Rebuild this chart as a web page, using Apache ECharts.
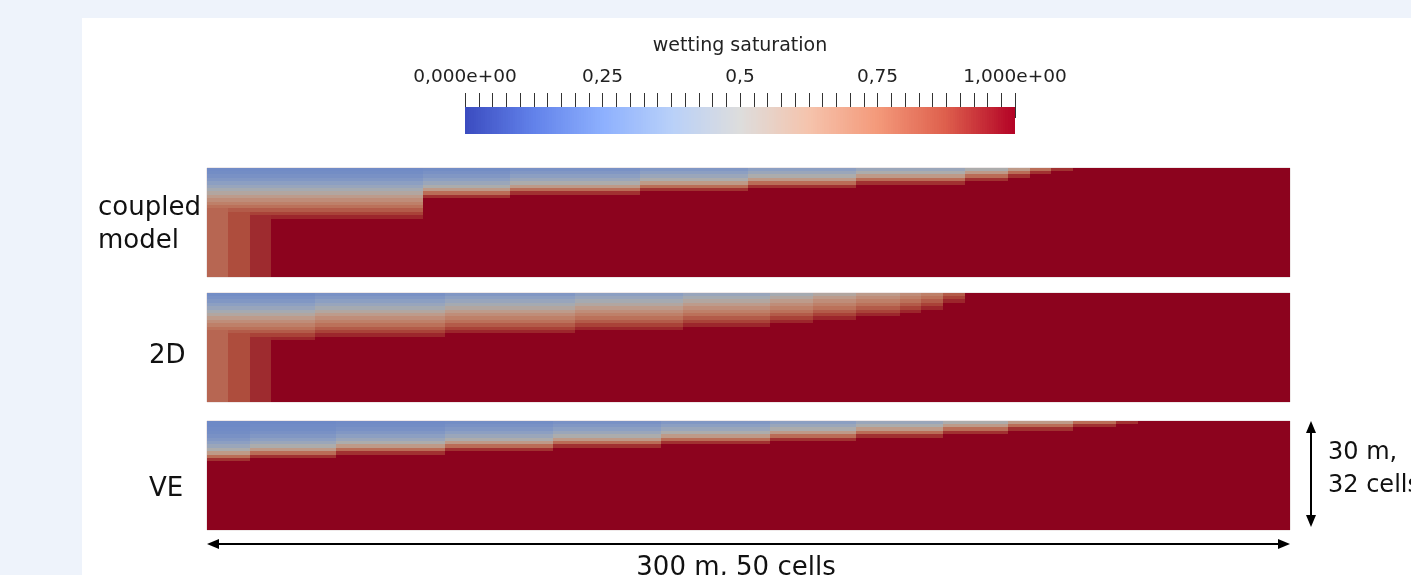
<!DOCTYPE html>
<html>
<head>
<meta charset="utf-8">
<script src="https://cdn.jsdelivr.net/npm/echarts@6/dist/echarts.min.js"></script>
<style>
  html, body { margin: 0; padding: 0; background: #eef3fb; }
  #chart { width: 1411px; height: 575px; }
</style>
</head>
<body>
<div id="chart"></div>
<script>
// Grid of the simulation: 50 columns (300 m) by 32 layers (30 m)
const COLS = 50;
const ROWS = 32;

// Number of unsaturated layers (counted from the top) in each column
const coupledFront = [15, 15, 15, 15, 15, 15, 15, 15, 15, 15,
                       9,  9,  9,  9,  8,  8,  8,  8,  8,  8,
                       7,  7,  7,  7,  7,  6,  6,  6,  6,  6,
                       5,  5,  5,  5,  5,  4,  4,  3,  2,  1,
                       0,  0,  0,  0,  0,  0,  0,  0,  0,  0];
const twoDFront =    [14, 14, 14, 14, 14, 13, 13, 13, 13, 13,
                      13, 12, 12, 12, 12, 12, 12, 11, 11, 11,
                      11, 11, 10, 10, 10, 10,  9,  9,  8,  8,
                       7,  7,  6,  5,  3,  0,  0,  0,  0,  0,
                       0,  0,  0,  0,  0,  0,  0,  0,  0,  0];
const veFront =      [12, 12, 11, 11, 11, 11, 10, 10, 10, 10,
                      10,  9,  9,  9,  9,  9,  8,  8,  8,  8,
                       8,  7,  7,  7,  7,  7,  6,  6,  6,  6,
                       5,  5,  5,  5,  4,  4,  4,  3,  3,  3,
                       2,  2,  1,  0,  0,  0,  0,  0,  0,  0];

// Saturation by distance above the fully saturated zone (1 = layer just above it)
const profile2D = [0.94, 0.89, 0.83, 0.77, 0.72, 0.67, 0.61, 0.54,
                   0.47, 0.41, 0.36, 0.32, 0.29, 0.27, 0.26, 0.25];
const profileVE = [0.92, 0.78, 0.62, 0.50, 0.42, 0.36, 0.32, 0.29,
                   0.27, 0.26, 0.25, 0.25, 0.24, 0.24, 0.24, 0.24];

// Saturation below the front in the first columns of the 2D region
const leftColumnSat = [0.80, 0.87, 0.93];
// First column of the vertical-equilibrium part in the coupled model
const coupledVEStart = 10;

// Colour legend
const legendTitle = 'wetting saturation';
const tickValues = [0, 0.25, 0.5, 0.75, 1];
const tickLabels = ['0,000e+00', '0,25', '0,5', '0,75', '1,000e+00'];

const panelLabels = [['coupled', 'model'], ['2D'], ['VE']];
const heightLabel = ['30 m,', '32 cells'];
const widthLabel = '300 m, 50 cells';

// ---------------------------------------------------------------------------
function buildField(front, profileFor, belowFor) {
  const out = [];
  for (let c = 0; c < COLS; c++) {
    const profile = profileFor(c);
    const below = belowFor(c);
    for (let r = 0; r < ROWS; r++) {
      let v = below;
      if (r < front[c]) {
        const k = front[c] - r;
        v = Math.min(profile[Math.min(k, profile.length) - 1], below);
      }
      out.push([c, r, v]);
    }
  }
  return out;
}
const belowLeft = c => (c < leftColumnSat.length ? leftColumnSat[c] : 1);
const fields = [
  buildField(coupledFront, c => (c < coupledVEStart ? profile2D : profileVE), belowLeft),
  buildField(twoDFront, () => profile2D, belowLeft),
  buildField(veFront, () => profileVE, () => 1)
];

// Cool-to-warm diverging map; the rendered slabs are lit, hence darker
const coolWarm = [[59, 76, 192], [98, 130, 234], [141, 176, 254], [184, 208, 249],
                  [221, 221, 221], [245, 196, 173], [244, 154, 123], [222, 96, 77], [180, 4, 38]];
const shade = 0.78;
const rgb = a => 'rgb(' + a.map(Math.round).join(',') + ')';
const barColors = coolWarm.map(rgb);
const slabColors = coolWarm.map(a => rgb(a.map(v => v * shade)));

// Layout
const PANEL_LEFT = 207, PANEL_WIDTH = 1083, PANEL_HEIGHT = 109;
const PANEL_TOPS = [168, 293, 421];
const CB_LEFT = 465, CB_TOP = 107, CB_WIDTH = 550, CB_HEIGHT = 27;
const CB_STEPS = 240;

const colIdx = Array.from({ length: COLS }, (_, i) => i);
const rowIdx = Array.from({ length: ROWS }, (_, i) => i);
const cbIdx = Array.from({ length: CB_STEPS }, (_, i) => i);
const cbData = cbIdx.map(i => [i, 0, i / (CB_STEPS - 1)]);

const grids = PANEL_TOPS.map(t => ({
  left: PANEL_LEFT, top: t, width: PANEL_WIDTH, height: PANEL_HEIGHT,
  show: true, borderColor: 'rgba(215,200,200,0.8)', borderWidth: 1
}));
grids.push({ left: CB_LEFT, top: CB_TOP, width: CB_WIDTH, height: CB_HEIGHT });

const hidden = { show: false };
const xAxes = PANEL_TOPS.map((_, i) => ({
  type: 'category', gridIndex: i, data: colIdx, show: false
}));
const yAxes = PANEL_TOPS.map((_, i) => ({
  type: 'category', gridIndex: i, data: rowIdx, inverse: true, show: false
}));
// colour bar: sample strip + tick axes
xAxes.push({ type: 'category', gridIndex: 3, data: cbIdx, show: false });
xAxes.push({
  type: 'value', gridIndex: 3, position: 'top', min: 0, max: 1, interval: 0.25,
  axisLine: hidden,
  axisTick: { show: true, length: 14, lineStyle: { color: '#333', width: 1 } },
  minorTick: { show: true, splitNumber: 10, length: 14, lineStyle: { color: '#333', width: 1 } },
  splitLine: hidden,
  axisLabel: {
    margin: 20, fontFamily: 'DejaVu Sans', fontSize: 18.5, color: '#222',
    formatter: v => {
      const i = tickValues.findIndex(t => Math.abs(t - v) < 1e-9);
      return i >= 0 ? tickLabels[i] : '';
    }
  }
});
xAxes.push({
  type: 'value', gridIndex: 3, position: 'top', min: 0, max: 1, interval: 0.25,
  show: true, axisLine: hidden, axisLabel: hidden, splitLine: hidden,
  axisTick: { show: true, inside: true, length: 11, lineStyle: { color: '#333', width: 1 } }
});
yAxes.push({ type: 'category', gridIndex: 3, data: [''], show: false });

// Each cell is filled out to whole pixels so neighbouring cells meet without seams
function renderCell(params, api) {
  const p = api.coord([api.value(0), api.value(1)]);
  const s = api.size([1, 1]);
  const x0 = Math.floor(p[0] - s[0] / 2), y0 = Math.floor(p[1] - s[1] / 2);
  const x1 = Math.ceil(p[0] + s[0] / 2), y1 = Math.ceil(p[1] + s[1] / 2);
  return {
    type: 'rect',
    shape: { x: x0, y: y0, width: x1 - x0, height: y1 - y0 },
    style: { fill: api.visual('color') }
  };
}

const series = fields.map((f, i) => ({
  type: 'custom', xAxisIndex: i, yAxisIndex: i, data: f,
  encode: { x: 0, y: 1 }, renderItem: renderCell, clip: true, silent: true
}));
series.push({
  type: 'custom', xAxisIndex: 3, yAxisIndex: 3, data: cbData,
  encode: { x: 0, y: 1 }, renderItem: renderCell, clip: true, silent: true, z: 1
});

// Annotations
const textStyle = (extra) => Object.assign({
  fontFamily: 'DejaVu Sans', fontSize: 26, fill: '#111'
}, extra);
const graphic = [
  { type: 'rect', shape: { x: 82, y: 18, width: 1411 - 82, height: 575 - 18 },
    style: { fill: '#ffffff' }, z: -10, silent: true },
  { type: 'text', x: CB_LEFT + CB_WIDTH / 2, y: 46,
    style: { text: legendTitle, fontFamily: 'DejaVu Sans', fontSize: 19, fill: '#222',
             textAlign: 'center', textVerticalAlign: 'middle' } },
  { type: 'text', x: 98, y: 208, style: textStyle({ text: panelLabels[0][0], textVerticalAlign: 'middle' }) },
  { type: 'text', x: 98, y: 241, style: textStyle({ text: panelLabels[0][1], textVerticalAlign: 'middle' }) },
  { type: 'text', x: 149, y: 356, style: textStyle({ text: panelLabels[1][0], textVerticalAlign: 'middle' }) },
  { type: 'text', x: 149, y: 489, style: textStyle({ text: panelLabels[2][0], textVerticalAlign: 'middle' }) }
];

// double arrows for the domain size
const vx = PANEL_LEFT + PANEL_WIDTH + 21;
const vTop = PANEL_TOPS[2], vBot = PANEL_TOPS[2] + PANEL_HEIGHT - 3;
const hy = PANEL_TOPS[2] + PANEL_HEIGHT + 14;
const hL = PANEL_LEFT, hR = PANEL_LEFT + PANEL_WIDTH;
const head = 12, half = 5;
graphic.push(
  { type: 'line', shape: { x1: vx, y1: vTop + head - 2, x2: vx, y2: vBot - head + 2 },
    style: { stroke: '#000', lineWidth: 2 } },
  { type: 'polygon', shape: { points: [[vx, vTop], [vx - half, vTop + head], [vx + half, vTop + head]] },
    style: { fill: '#000' } },
  { type: 'polygon', shape: { points: [[vx, vBot], [vx - half, vBot - head], [vx + half, vBot - head]] },
    style: { fill: '#000' } },
  { type: 'line', shape: { x1: hL + head - 2, y1: hy, x2: hR - head + 2, y2: hy },
    style: { stroke: '#000', lineWidth: 2 } },
  { type: 'polygon', shape: { points: [[hL, hy], [hL + head, hy - half], [hL + head, hy + half]] },
    style: { fill: '#000' } },
  { type: 'polygon', shape: { points: [[hR, hy], [hR - head, hy - half], [hR - head, hy + half]] },
    style: { fill: '#000' } },
  { type: 'text', x: vx + 17, y: 453, style: textStyle({ text: heightLabel[0], fontSize: 24, textVerticalAlign: 'middle' }) },
  { type: 'text', x: vx + 17, y: 486, style: textStyle({ text: heightLabel[1], fontSize: 24, textVerticalAlign: 'middle' }) },
  { type: 'text', x: 736, y: 568, style: textStyle({ text: widthLabel, textAlign: 'center', textVerticalAlign: 'middle' }) }
);

const chart = echarts.init(document.getElementById('chart'), null, { renderer: 'canvas' });
chart.setOption({
  backgroundColor: '#eef3fb',
  animation: false,
  grid: grids,
  xAxis: xAxes,
  yAxis: yAxes,
  visualMap: [
    { type: 'continuous', show: false, min: 0, max: 1, dimension: 2, seriesIndex: [0, 1, 2],
      inRange: { color: slabColors } },
    { type: 'continuous', show: false, min: 0, max: 1, dimension: 2, seriesIndex: [3],
      inRange: { color: barColors } }
  ],
  series: series,
  graphic: graphic
});
</script>
</body>
</html>
